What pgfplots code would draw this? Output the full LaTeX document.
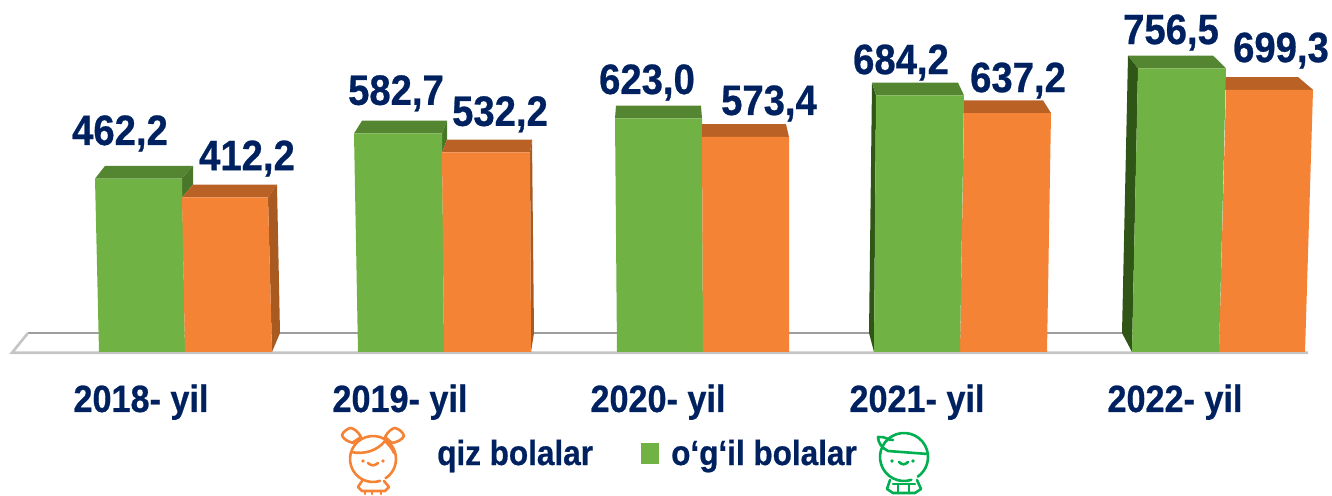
\documentclass[border=0pt]{standalone}
\usepackage{fontspec}
\setmainfont{Liberation Sans}[BoldFont={Liberation Sans Bold},BoldFeatures={FakeStretch=0.9,FakeBold=0.6}]
\usepackage{pgfplots}
\pgfplotsset{compat=1.18}
\definecolor{navy}{HTML}{00215F}
\definecolor{gfront}{HTML}{70B243}
\definecolor{gtop}{HTML}{548530}
\definecolor{gside}{HTML}{2F5517}
\definecolor{ofront}{HTML}{F58335}
\definecolor{otop}{HTML}{BA6226}
\definecolor{oside}{HTML}{A85A20}
\definecolor{edge}{HTML}{C4C4C4}
\definecolor{boygreen}{HTML}{00B050}
\newcommand\face[2]{\addplot[fill=#1,draw=none,forget plot] coordinates {#2} -- cycle;}
\newcommand\vallab[3]{\node[anchor=base,text=navy,font=\bfseries\fontsize{42.5}{42.5}\selectfont,inner sep=0pt] at (axis cs:#1,#2) {#3};}
\begin{document}
\begin{tikzpicture}[x=1pt,y=1pt]
\useasboundingbox (0,0) rectangle (1332,495);
\begin{axis}[
  at={(0,0)},anchor=south west,
  width=1332pt,height=495pt,scale only axis,
  xmin=0,xmax=1332,ymin=-381.33,ymax=938.67,
  clip=false,
  axis line style={draw=none},
  ytick=\empty,
  xtick={141,400,658,917,1175},
  xticklabels={2018- yil,2019- yil,2020- yil,2021- yil,2022- yil},
  major tick length=0pt,
  xticklabel style={anchor=base,text=navy,font=\bfseries\fontsize{38}{38}\selectfont,yshift=83pt,inner sep=0pt},
]
% floor
\addplot[edge!80!black,line width=2.2pt,forget plot] coordinates {(28,50.7) (1291,50.7)};
\addplot[edge,line width=2.6pt,forget plot] coordinates {(28,50.7) (12,-2) (1308,-2)};
% group 1
\face{gtop}{(95,462.2) (105,496.2) (193,496.2) (182,462.2)}
\face{gtop!70!gside}{(182,462.2) (193,496.2) (193,446.2) (182,412.2)}
\face{gfront}{(95,462.2) (182,462.2) (185,0) (99,0)}
\face{otop}{(182,412.2) (193,446.2) (277,446.2) (268,412.2)}
\face{oside}{(268,412.2) (277,446.2) (280,50.7) (272,0)}
\face{ofront}{(182,412.2) (268,412.2) (272,0) (185,0)}
% group 2
\face{gtop}{(354,582.7) (362,616.7) (447,616.7) (442,582.7)}
\face{gtop!70!gside}{(442,582.7) (447,616.7) (447,566.2) (442,532.2)}
\face{gfront}{(354,582.7) (442,582.7) (444,0) (358,0)}
\face{otop}{(442,532.2) (447,566.2) (532,566.2) (530,532.2)}
\face{oside}{(530,532.2) (532,566.2) (534,50.7) (531,0)}
\face{ofront}{(442,532.2) (530,532.2) (531,0) (444,0)}
% group 3
\face{gtop}{(615,623.0) (616,657.0) (701,657.0) (702,623.0)}
\face{gfront}{(615,623.0) (702,623.0) (703,0) (617,0)}
\face{otop}{(702,573.4) (702,607.4) (786,607.4) (789,573.4)}
\face{ofront}{(702,573.4) (789,573.4) (789,0) (703,0)}
% group 4 (orange first: the green bar stands in front of its top)
\face{otop}{(960,637.2) (958,671.2) (1043,671.2) (1051,637.2)}
\face{ofront}{(964,637.2) (1051,637.2) (1047,0) (960,0)}
\face{gside}{(876,684.2) (872,718.2) (869,50.7) (874,0)}
\face{gtop}{(876,684.2) (872,718.2) (958,718.2) (964,684.2)}
\face{gfront}{(876,684.2) (964,684.2) (960,0) (874,0)}
% group 5
\face{otop}{(1220,699.3) (1213,733.3) (1298,733.3) (1313,699.3)}
\face{ofront}{(1226,699.3) (1313,699.3) (1305,0) (1219,0)}
\face{gside}{(1138,756.5) (1128,790.5) (1122,50.7) (1132,0)}
\face{gtop}{(1138,756.5) (1128,790.5) (1213,790.5) (1226,756.5)}
\face{gfront}{(1138,756.5) (1226,756.5) (1219,0) (1132,0)}
% value labels (position, base level in data units)
\vallab{120}{552}{462,2}
\vallab{247}{485}{412,2}
\vallab{396}{659}{582,7}
\vallab{500}{603}{532,2}
\vallab{647}{688}{623,0}
\vallab{769}{632}{573,4}
\vallab{901}{741}{684,2}
\vallab{1018}{693}{637,2}
\vallab{1171}{821}{756,5}
\vallab{1281}{773}{699,3}
\end{axis}
% legend and figures, reference pixels
\begin{scope}[shift={(0,495)},x=1pt,y=-1pt]
\node[anchor=base west,text=navy,font=\bfseries\fontsize{35}{35}\selectfont,inner sep=0pt] at (437,465) {qiz bolalar};
\fill[gfront] (641,443) rectangle (659,464);
\node[anchor=base west,text=navy,font=\bfseries\fontsize{35}{35}\selectfont,inner sep=0pt] at (671,465) {o‘g‘il bolalar};
% girl
\begin{scope}[line width=2.6pt,line cap=round,line join=round]
\draw[ofront] (352,443) -- (361,437) .. controls (358,431) and (353,428) .. (350,428) .. controls (347,429) and (343,432) .. (342,435) .. controls (343,439) and (348,442) .. (354,443);
\draw[ofront] (392,443) -- (385,437) .. controls (388,431) and (393,428) .. (395,428) .. controls (399,429) and (403,432) .. (404,436) .. controls (402,440) and (397,442) .. (392,443);
\draw[ofront] (373,459) ++(72:23) arc[start angle=72,end angle=417,radius=23];
\draw[ofront] (351,452) .. controls (365,455) and (378,450) .. (385,441) .. controls (388,444) and (392,448) .. (394,453);
\draw[ofront] (368,463) .. controls (371,466) and (375,466) .. (378,463);
\draw[ofront] (362,481) -- (358,487) -- (362,491) -- (385,491) -- (389,487) -- (384,481);
\draw[ofront] (365,491) -- (365,494) (372,491) -- (372,494) (381,491) -- (381,494);
\fill[ofront] (363,461) circle (1.8) (383,461) circle (1.8);
\end{scope}
% boy
\begin{scope}[line width=2.6pt,line cap=round,line join=round]
\draw[boygreen] (904,457) ++(72:24) arc[start angle=72,end angle=415,radius=24];
\draw[boygreen] (878,437) .. controls (885,436) and (890,441) .. (893,440);
\draw[boygreen] (878,437) .. controls (878,443) and (882,448) .. (888,451) -- (928,454);
\draw[boygreen] (890,480) -- (887,489) -- (893,493) -- (915,493) -- (921,489) -- (917,480);
\draw[boygreen] (898,484) -- (898,493) (909,484) -- (909,493) (893,484) -- (915,484);
\fill[boygreen] (892,461) circle (1.8) (913,461) circle (1.8);
\draw[boygreen] (899,462) .. controls (902,465) and (905,465) .. (908,462);
\end{scope}
\end{scope}
\end{tikzpicture}
\end{document}
